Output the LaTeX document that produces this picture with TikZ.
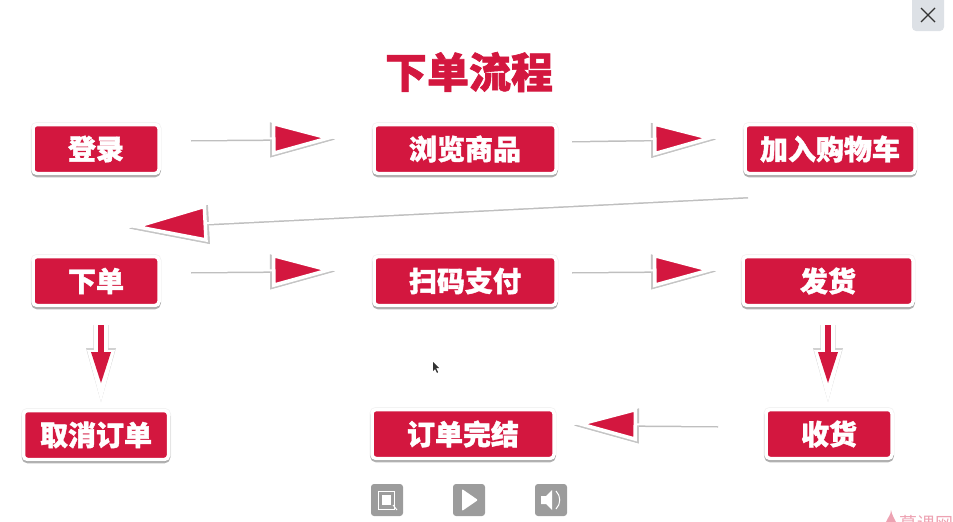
\documentclass[tikz,border=0pt]{standalone}
\usepackage{fontspec}
\setmainfont{Noto Sans CJK SC}[BoldFeatures={FakeBold=1.4}]
\usetikzlibrary{arrows.meta,shadows}
\definecolor{crim}{HTML}{D3173F}
\definecolor{btngray}{HTML}{9C9C9C}
\definecolor{closegray}{HTML}{DDE1E6}
\tikzstyle{every node}=[font=\bfseries]
\tikzstyle{redbox}=[draw=white,line width=3.5pt,fill=crim,text=white,rounded corners=4pt,minimum height=49pt,inner sep=0pt,font=\fontsize{28}{30}\selectfont\bfseries,preaction={draw=black!5,line width=5pt},drop shadow={shadow xshift=0pt,shadow yshift=-2pt,draw=black,fill=black,line width=3.5pt,opacity=0.3}]
\tikzstyle{headtip}=[-{Triangle[length=63pt,width=33pt,line width=3.5pt,fill=crim]}]
\tikzstyle{shadetip}=[-{Triangle[length=65pt,width=35pt,line width=0.5pt,fill=black!22]}]
\tikzstyle{flow}=[draw=white,line width=2pt,headtip,preaction={draw=black!25,line width=2pt,shadetip,transform canvas={yshift=-1.5pt}}]
\tikzstyle{flowlong}=[draw=white,line width=2pt,-{Triangle[length=78pt,width=37pt,line width=3.5pt,fill=crim]},preaction={draw=black!25,line width=2pt,-{Triangle[length=80pt,width=39pt,line width=0.5pt,fill=black!22]},transform canvas={yshift=-1.5pt}}]
\tikzstyle{flowdown}=[draw=white,line width=14pt,-{Triangle[length=52pt,width=28pt,line width=0pt,fill=white]},preaction={draw=black!10,line width=16pt,-,shorten >=49pt},preaction={draw=black!18,line width=1pt,-{Triangle[length=54pt,width=30pt,line width=0pt,fill=black!18]}},postaction={draw=crim,line width=6pt,shorten >=19pt,-{Triangle[length=31pt,width=20pt,line width=0pt,fill=crim]}}]
\tikzstyle{iconbtn}=[fill=btngray,rounded corners=3pt,minimum size=32pt,inner sep=0pt]
\begin{document}
\begin{tikzpicture}[x=1pt,y=-1pt]
    \useasboundingbox (0,0) rectangle (953,522);
    \node[text=crim,font=\fontsize{42}{46}\selectfont\bfseries,inner sep=0pt] (title) at (469,72) {下单流程};
    % boxes
    \node[redbox,minimum width=126pt] (login) at (96,149) {登录};
    \node[redbox,minimum width=182pt] (browse) at (465,149) {浏览商品};
    \node[redbox,minimum width=170pt] (cart) at (830,149) {加入购物车};
    \node[redbox,minimum width=126pt] (order) at (96,281) {下单};
    \node[redbox,minimum width=182pt] (pay) at (465,281) {扫码支付};
    \node[redbox,minimum width=170pt] (ship) at (828,281) {发货};
    \node[redbox,minimum width=145pt] (cancel) at (96,435) {取消订单};
    \node[redbox,minimum width=182pt] (done) at (463,434) {订单完结};
    \node[redbox,minimum width=126pt] (receive) at (829,434) {收货};
    % free ends of the arrows
    \coordinate (loginOut) at (191,139);
    \coordinate (browseIn) at (335,138);
    \coordinate (browseOut) at (572,140);
    \coordinate (cartIn) at (716,138);
    \coordinate (cartOut) at (748,196);
    \coordinate (orderIn) at (129,227);
    \coordinate (orderOut) at (191,271);
    \coordinate (payIn) at (335,270);
    \coordinate (payOut) at (572,271);
    \coordinate (shipIn) at (716,270);
    \coordinate (orderDown) at (101,325);
    \coordinate (cancelIn) at (101,402);
    \coordinate (shipDown) at (828,325);
    \coordinate (receiveIn) at (828,402);
    \coordinate (receiveOut) at (718,425);
    \coordinate (doneIn) at (574,424);
    % arrows
    \draw[flow] (loginOut)--(browseIn);
    \draw[flow] (browseOut)--(cartIn);
    \draw[flowlong] (cartOut)--(orderIn);
    \draw[flow] (orderOut)--(payIn);
    \draw[flow] (payOut)--(shipIn);
    \draw[flow] (receiveOut)--(doneIn);
    \draw[flowdown] (orderDown)--(cancelIn);
    \draw[flowdown] (shipDown)--(receiveIn);
    % close button
    \fill[closegray,rounded corners=4pt] (912,-8) rectangle (944,31);
    \draw[line width=1.2pt,black!80] (921,8)--(935,22) (935,8)--(921,22);
    % player buttons
    \node[iconbtn] (zoomBtn) at (387,500) {};
    \node[iconbtn] (playBtn) at (469,500) {};
    \node[iconbtn] (soundBtn) at (551,500) {};
    \draw[white,line width=1pt] (378,491) rectangle (394,509);
    \fill[white] (382,495) rectangle (391,505);
    \draw[white,line width=1pt] (393,505)--(397,510);
    \fill[white,rounded corners=1pt] (462,489) -- (478,500) -- (462,511) -- cycle;
    \fill[white] (541,496) -- (546,496) -- (552,490) -- (552,510) -- (546,504) -- (541,504) -- cycle;
    \draw[white,line width=1pt] (556,491) .. controls (561,496) and (561,504) .. (556,509);
    % cursor
    \fill[black!80] (433,362) -- (433,371) -- (435,369) -- (437,373) -- (438,372) -- (436,368) -- (439,368) -- cycle;
    % watermark
    \fill[crim!40] (891,510) .. controls (891,515) and (888,517) .. (886,522) -- (896,522) .. controls (894,518) and (892,515) .. (891,510);
    \node[text=crim!40,font=\fontsize{18}{20}\selectfont,inner sep=0pt,anchor=west] (mark) at (899,524) {慕课网};
\end{tikzpicture}
\end{document}
